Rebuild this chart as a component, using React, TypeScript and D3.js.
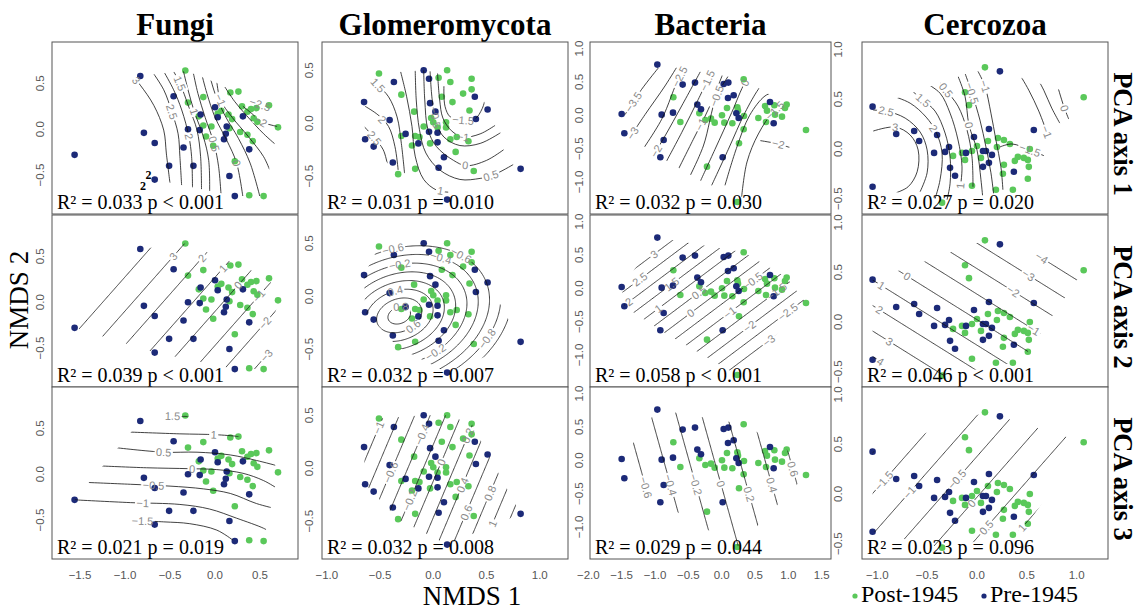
import React from "react";
import * as d3 from "d3";

type Pt = [number, number];
type Lbl = [number, number, number];
type Line = { level: number; pts: Pt[] };

const W = 1143;
const H = 610;

// ---------------- text / categories ----------------
const taxa = ["Fungi", "Glomeromycota", "Bacteria", "Cercozoa"];
const pcaAxes = ["PCA axis 1", "PCA axis 2", "PCA axis 3"];
const groups = ["Post-1945", "Pre-1945"];
const groupColors = ["#5ac85a", "#1c2a78"];

const rSquared = [
  ["0.033", "0.039", "0.021"],
  ["0.031", "0.032", "0.032"],
  ["0.032", "0.058", "0.029"],
  ["0.027", "0.046", "0.023"],
];
const pValues = [
  ["< 0.001", "< 0.001", "= 0.019"],
  ["= 0.010", "= 0.007", "= 0.008"],
  ["= 0.030", "< 0.001", "= 0.044"],
  ["= 0.020", "< 0.001", "= 0.096"],
];

const xTicks = [
  [-1.5, -1, -0.5, 0, 0.5],
  [-1, -0.5, 0, 0.5, 1],
  [-2, -1.5, -1, -0.5, 0, 0.5, 1, 1.5],
  [-1, -0.5, 0, 0.5, 1],
];
const yTicks = [
  [-0.5, 0, 0.5],
  [-0.5, 0, 0.5],
  [-1, -0.5, 0, 0.5, 1],
  [-0.5, 0, 0.5, 1],
];

// stray black "2" marks printed in the Fungi / PCA axis 1 panel (data coords)
const fungiPca1Stray: Pt[] = [[-0.74, -0.5], [-0.8, -0.62]];

// ---------------- NMDS points ----------------
const fungiPost: Pt[] = [
  [-0.33, 0.64], [-0.30, 0.29], [-0.13, 0.35], [-0.18, 0.14], [-0.13, 0.04], [-0.10, -0.08],
  [-0.04, 0.03], [-0.02, -0.18], [0.07, 0.20], [0.03, 0.17], [0.15, 0.16], [0.17, 0.40],
  [0.26, 0.41], [0.19, 0.11], [0.16, 0.01], [0.30, 0.25], [0.28, -0.03], [0.36, 0.19],
  [0.40, 0.22], [0.46, 0.23], [0.43, 0.12], [0.47, 0.08], [0.60, 0.26], [0.70, 0.02],
  [0.36, -0.06], [0.42, -0.13], [0.22, -0.35], [0.38, -0.72], [0.54, -0.73],
];
const fungiPre: Pt[] = [
  [-1.56, -0.28], [-0.83, 0.58], [-0.46, 0.36], [-0.79, -0.04], [-0.67, -0.15], [-0.67, -0.55],
  [-0.51, -0.40], [-0.35, -0.20], [-0.30, 0.00], [-0.24, -0.40], [-0.17, -0.01], [-0.16, 0.16],
  [0.00, 0.24], [0.03, 0.13], [0.13, 0.03], [0.12, -0.05], [0.10, -0.11], [0.16, -0.51],
  [0.22, -0.73], [0.31, 0.14], [0.38, -0.22],
];
const glomPost: Pt[] = [
  [-0.51, 0.47], [-0.30, 0.27], [-0.18, 0.11], [0.05, 0.43], [0.13, 0.50], [0.16, 0.39],
  [0.08, 0.25], [0.18, 0.20], [0.28, 0.28], [0.36, 0.42], [0.36, 0.32], [0.34, 0.12],
  [-0.02, 0.05], [0.00, 0.01], [0.12, 0.01], [0.12, -0.04], [0.04, -0.04], [-0.09, -0.03],
  [-0.30, -0.12], [-0.17, -0.12], [-0.13, -0.13], [-0.20, -0.21], [-0.03, -0.19], [0.16, -0.15],
  [0.22, -0.13], [0.33, -0.17], [0.21, -0.27], [-0.17, -0.43], [-0.33, -0.48], [0.38, -0.45],
];
const glomPre: Pt[] = [
  [-0.09, 0.50], [-0.04, 0.42], [-0.37, 0.39], [-0.65, 0.20], [-0.03, 0.19], [0.02, 0.11],
  [-0.41, 0.03], [-0.64, -0.15], [-0.56, -0.22], [-0.26, -0.10], [-0.14, -0.19], [-0.04, -0.08],
  [0.04, -0.09], [0.04, -0.18], [0.10, -0.32], [-0.38, -0.37], [0.05, -0.42], [0.13, -0.72],
  [0.39, 0.25], [0.51, 0.13], [0.40, 0.04], [0.82, -0.43],
];
const bactPost: Pt[] = [
  [-0.725, 0.27], [-0.62, -0.10], [-0.335, 0.03], [-0.245, -0.07], [-0.16, -0.05], [-0.105, -0.11],
  [0.005, 0.00], [0.04, -0.11], [0.08, 0.11], [0.16, -0.12], [0.235, 0.12], [0.245, 0.07],
  [0.33, 0.54], [0.335, -0.01], [0.33, -0.21], [0.26, -0.42], [0.55, -0.04], [0.65, 0.14],
  [0.68, 0.07], [0.665, -0.10], [0.79, 0.15], [0.80, 0.01], [0.905, -0.02], [0.95, 0.11],
  [0.975, 0.16], [1.265, -0.22], [-0.22, -0.77], [0.235, -1.30],
];
const bactPre: Pt[] = [
  [-0.965, 0.76], [-1.50, 0.02], [-1.46, -0.27], [-0.90, 0.01], [-0.87, -0.37], [-0.92, -0.63],
  [-0.73, 0.04], [-0.585, 0.46], [-0.40, 0.49], [-0.365, 0.16], [-0.31, 0.09], [0.03, 0.47],
  [0.10, 0.49], [0.095, 0.26], [0.18, 0.30], [0.22, 0.03], [0.255, -0.04], [0.015, -0.63],
  [0.725, 0.20], [0.78, -0.12],
];
const cercPost: Pt[] = [
  [0.08, 0.82], [-0.12, 0.57], [-0.08, 0.44], [1.07, 0.52], [-0.24, -0.07], [-0.15, -0.04],
  [-0.12, -0.11], [-0.05, -0.02], [0.00, 0.03], [0.04, -0.09], [0.11, 0.08], [0.21, 0.11],
  [0.20, 0.02], [0.27, 0.09], [0.33, 0.05], [0.53, 0.00], [0.27, -0.16], [0.26, -0.25],
  [0.38, -0.12], [0.41, -0.08], [0.47, -0.09], [0.51, -0.11], [0.52, -0.18], [0.51, -0.30],
  [0.36, -0.41], [0.19, -0.41], [-0.05, -0.37], [-0.35, -0.54],
];
const cercPre: Pt[] = [
  [-1.047, 0.425], [-1.047, -0.38], [-0.81, 0.15], [-0.63, 0.18], [-0.58, 0.08], [-0.40, 0.14],
  [-0.43, -0.04], [-0.32, -0.03], [-0.28, 0.02], [-0.27, -0.19], [-0.22, -0.27], [-0.11, -0.04],
  [-0.03, 0.12], [0.06, -0.02], [0.09, -0.02], [0.12, 0.20], [0.15, -0.06], [0.12, -0.14],
  [0.06, -0.18], [0.23, 0.78], [0.57, 0.19], [0.37, -0.23],
];

// ---------------- fitted surfaces (contours) ----------------
// Fungi, PCA axis 1
const fungiPca1Lines: Line[] = [
  { level: 3.5, pts: [[-1.59, -0.24], [-1.52, -0.33]] },
  { level: 3, pts: [[-0.94, 0.61], [-0.83, 0.48], [-0.68, 0.26], [-0.57, -0.01], [-0.54, -0.27], [-0.50, -0.59]] },
  { level: 2.5, pts: [[-0.70, 0.63], [-0.57, 0.43], [-0.48, 0.19], [-0.41, -0.05], [-0.39, -0.30], [-0.37, -0.63]] },
  { level: 2, pts: [[-0.57, 0.63], [-0.46, 0.43], [-0.37, 0.21], [-0.29, -0.08], [-0.26, -0.30], [-0.25, -0.65]] },
  { level: 1.5, pts: [[-0.46, 0.63], [-0.39, 0.50], [-0.29, 0.24], [-0.20, -0.01], [-0.16, -0.30], [-0.15, -0.68]] },
  { level: 1, pts: [[-0.35, 0.63], [-0.30, 0.43], [-0.23, 0.19], [-0.13, -0.08], [-0.07, -0.34], [-0.06, -0.72]] },
  { level: 0.5, pts: [[-0.24, 0.61], [-0.19, 0.39], [-0.11, 0.13], [-0.01, -0.16], [0.04, -0.41], [0.07, -0.76]] },
  { level: 0, pts: [[-0.15, 0.61], [-0.09, 0.39], [0.0, 0.13], [0.13, -0.12], [0.24, -0.37], [0.31, -0.74]] },
  { level: -0.5, pts: [[-0.06, 0.59], [0.0, 0.39], [0.11, 0.15], [0.26, -0.10], [0.39, -0.37], [0.50, -0.74]] },
  { level: -1, pts: [[0.02, 0.52], [0.06, 0.32], [0.19, 0.13], [0.37, -0.08], [0.54, -0.30], [0.61, -0.45]] },
  { level: -1.5, pts: [[0.11, 0.46], [0.22, 0.30], [0.35, 0.15], [0.54, -0.05], [0.70, -0.19]] },
  { level: -2, pts: [[0.31, 0.25], [0.41, 0.17], [0.52, 0.08], [0.69, 0.03]] },
  { level: -2.5, pts: [[0.39, 0.33], [0.50, 0.27], [0.63, 0.25]] },
];
const fungiPca1Labels: Lbl[] = [
  [3, -0.88, 0.53], [2.5, -0.48, 0.19], [2, -0.29, -0.08], [1.5, -0.39, 0.5], [1, -0.23, 0.19],
  [0.5, -0.01, -0.16], [0, 0.24, -0.37], [-1, 0.06, 0.32], [-2, 0.5, 0.08], [-2.5, 0.5, 0.27],
];
// Fungi, PCA axis 2 (plane)
const fungiPca2Plane = [0.27, -2.99, 2.69];
const fungiPca2Levels = [-4, -3, -2, -1, 0, 1, 2, 3, 4];
const fungiPca2Labels: Lbl[] = [
  [3, -0.5, 0.53], [2, -0.17, 0.5], [1, 0.085, 0.37], [0, 0.26, 0.19], [-1, 0.52, 0.04], [-2, 0.56, -0.23], [-3, 0.54, -0.52],
];
// Fungi, PCA axis 3
const fungiPca3Lines: Line[] = [
  { level: 1.5, pts: [[-0.61, 0.64], [-0.28, 0.63]] },
  { level: 1, pts: [[-0.96, 0.46], [-0.39, 0.44], [0.02, 0.43], [0.41, 0.40]] },
  { level: 0.5, pts: [[-1.11, 0.29], [-0.57, 0.24], [-0.20, 0.24], [0.17, 0.21], [0.46, 0.15], [0.70, 0.09]] },
  { level: 0, pts: [[-1.27, 0.09], [-0.76, 0.07], [-0.28, 0.06], [0.02, 0.05], [0.31, 0.01], [0.54, -0.07], [0.70, -0.16]] },
  { level: -0.5, pts: [[-1.42, -0.09], [-0.94, -0.11], [-0.50, -0.13], [-0.13, -0.16], [0.17, -0.21], [0.46, -0.32], [0.69, -0.38]] },
  { level: -1, pts: [[-1.56, -0.28], [-0.94, -0.31], [-0.39, -0.33], [-0.06, -0.38], [0.24, -0.48], [0.54, -0.59], [0.61, -0.63]] },
  { level: -1.5, pts: [[-1.04, -0.50], [-0.57, -0.52], [-0.28, -0.54], [0.02, -0.61], [0.20, -0.72]] },
];
const fungiPca3Labels: Lbl[] = [
  [1.5, -0.46, 0.64], [1, -0.01, 0.43], [0.5, -0.57, 0.24], [0, -0.26, 0.07], [-0.5, -0.67, -0.12], [-1, -0.78, -0.32], [-1.5, -0.8, -0.51],
];
// Glomeromycota, PCA axis 1
const glomPca1Lines: Line[] = [
  { level: 2.5, pts: [[-0.66, -0.02], [-0.56, -0.13], [-0.47, -0.25], [-0.43, -0.39]] },
  { level: 2, pts: [[-0.64, 0.16], [-0.52, 0.08], [-0.42, -0.03], [-0.36, -0.22], [-0.33, -0.44]] },
  { level: 1.5, pts: [[-0.61, 0.46], [-0.52, 0.36], [-0.42, 0.25], [-0.34, 0.06], [-0.30, -0.19], [-0.27, -0.47]] },
  { level: 1, pts: [[-0.31, 0.50], [-0.25, 0.25], [-0.20, -0.03], [-0.17, -0.31], [-0.09, -0.53], [0.03, -0.63], [0.14, -0.65]] },
  { level: 0.5, pts: [[-0.17, 0.52], [-0.16, 0.22], [-0.13, -0.06], [-0.07, -0.28], [0.06, -0.44], [0.25, -0.53], [0.44, -0.52], [0.56, -0.49], [0.75, -0.39]] },
  { level: 0, pts: [[-0.09, 0.50], [-0.08, 0.22], [-0.05, -0.06], [0.03, -0.22], [0.19, -0.35], [0.31, -0.40], [0.50, -0.35], [0.66, -0.25]] },
  { level: -0.5, pts: [[-0.03, 0.49], [-0.01, 0.22], [0.03, 0.0], [0.10, -0.13], [0.25, -0.21], [0.44, -0.19], [0.63, -0.09]] },
  { level: -1, pts: [[0.04, 0.47], [0.06, 0.22], [0.09, 0.05], [0.17, -0.07], [0.28, -0.13], [0.44, -0.10], [0.58, -0.02]] },
  { level: -1.5, pts: [[0.10, 0.35], [0.11, 0.16], [0.16, 0.06], [0.28, 0.03], [0.39, 0.04], [0.46, 0.14], [0.49, 0.24]] },
];
const glomPca1Labels: Lbl[] = [
  [2.5, -0.56, -0.14], [2, -0.47, 0.05], [1.5, -0.53, 0.35], [1, 0.07, -0.64], [0.5, 0.54, -0.49],
  [0, 0.29, -0.41], [-0.5, 0.02, 0.06], [-1, 0.26, -0.16], [-1.5, 0.28, 0.04],
];
// Glomeromycota, PCA axis 2 (elliptical peak)
const glomPca2Center: Pt = [-0.32, -0.18];
const glomPca2Peak = 1.0;
const glomPca2Slope = 2.5;
const glomPca2Shape = [0.6, 1.0, -0.175];
const glomPca2Levels = [-1, -0.8, -0.6, -0.4, -0.2, 0, 0.2, 0.4, 0.6, 0.8];
const glomPca2Labels: Lbl[] = [
  [-0.6, -0.38, 0.48], [-0.2, -0.31, 0.28], [0.4, -0.36, 0.05], [0.8, -0.3, -0.14], [-0.6, 0.27, 0.41],
  [-0.4, 0.06, 0.31], [0.6, -0.11, -0.38], [-0.2, 0.0, -0.49], [-0.8, 0.53, -0.42],
];
// Glomeromycota, PCA axis 3 (plane)
const glomPca3Plane = [-0.07, 1.38, -0.58];
const glomPca3Levels = [-1.2, -1, -0.8, -0.6, -0.4, -0.2, 0, 0.2, 0.4, 0.6, 0.8, 1, 1.2];
const glomPca3Labels: Lbl[] = [
  [-1, -0.52, 0.39], [-0.6, -0.43, -0.03], [-0.4, -0.08, 0.31], [-0.2, -0.28, -0.28], [0, 0.1, 0.05],
  [0.2, 0.38, 0.28], [0.4, 0.28, -0.16], [0.6, 0.33, -0.42], [0.8, 0.55, -0.24], [1, 0.55, -0.52],
];
// Bacteria, PCA axis 1
const bactPca1Lines: Line[] = [
  { level: -3.5, pts: [[-1.45, 0.01], [-1.2, 0.39], [-0.95, 0.71]] },
  { level: -3, pts: [[-1.43, -0.41], [-1.15, 0.01], [-0.85, 0.44], [-0.65, 0.76]] },
  { level: -2.5, pts: [[-1.23, -0.58], [-0.9, -0.06], [-0.63, 0.58], [-0.5, 0.74]] },
  { level: -2, pts: [[-1.03, -0.61], [-0.85, -0.31], [-0.6, 0.14], [-0.3, 0.69]] },
  { level: -1.5, pts: [[-0.85, -0.73], [-0.6, -0.26], [-0.35, 0.24], [-0.15, 0.66]] },
  { level: -1, pts: [[-0.675, -0.86], [-0.425, -0.36], [-0.2, 0.09], [0.025, 0.64]] },
  { level: -0.5, pts: [[-0.5, -0.96], [-0.275, -0.46], [-0.075, 0.29], [0.15, 0.66]] },
  { level: 0, pts: [[-0.325, -1.0], [-0.1, -0.51], [0.15, 0.04], [0.35, 0.49], [0.45, 0.61]] },
  { level: -0.5, pts: [[-0.15, -1.05], [0.1, -0.51], [0.35, 0.04], [0.55, 0.39], [0.65, 0.51]] },
  { level: -1, pts: [[0.05, -1.05], [0.22, -0.5], [0.42, 0.0], [0.65, 0.29], [0.82, 0.36]] },
  { level: -1.5, pts: [[0.3, -1.22], [0.38, -0.7], [0.55, -0.28], [0.78, 0.06], [0.98, 0.2], [1.2, 0.0]] },
  { level: -2, pts: [[0.58, -0.38], [0.85, -0.43], [1.1, -0.51]] },
];
const bactPca1Labels: Lbl[] = [
  [-3.5, -1.33, 0.19], [-3, -1.33, -0.27], [-2.5, -0.63, 0.58], [-2, -1.0, -0.51], [-1.5, -0.225, 0.51],
  [-1, -0.425, -0.06], [-0.5, -0.075, 0.29], [0, 0.35, 0.49], [-1.5, 0.775, 0.09], [-2, 0.85, -0.43],
];
// Bacteria, PCA axis 2 (plane)
const bactPca2Plane = [0.05, -1.74, 2.32];
const bactPca2Levels = [-3.5, -3, -2.5, -2, -1.5, -1, -0.5, 0, 0.5, 1, 1.5, 2, 2.5, 3, 3.5];
const bactPca2Labels: Lbl[] = [
  [3, -1.04, 0.54], [2.5, -1.2, 0.11], [2, -1.39, -0.21], [1.5, -0.74, 0.06], [1, -0.93, -0.33],
  [0.5, -0.35, -0.06], [0, -0.46, -0.38], [-0.5, 0.45, 0.14], [-1, 0.125, -0.36], [-1.5, 0.8, -0.01],
  [-2, 0.425, -0.58], [-2.5, 1.0, -0.38], [-3, 0.7, -0.78],
];
// Bacteria, PCA axis 3 (plane)
const bactPca3Plane = [0.058, 0.526, 0.147];
const bactPca3Levels = [-0.8, -0.6, -0.4, -0.2, 0, 0.2, 0.4, 0.6, 0.8];
const bactPca3Labels: Lbl[] = [
  [-0.6, -1.125, -0.41], [-0.4, -0.75, -0.36], [-0.2, -0.375, -0.36], [0, -0.01, -0.36],
  [0.2, 0.415, -0.51], [0.4, 0.79, -0.36], [0.6, 1.09, -0.13],
];
// Cercozoa, PCA axis 1
const cercPca1Lines: Line[] = [
  { level: 3, pts: [[-1.04, 0.18], [-0.82, 0.22], [-0.67, 0.14], [-0.59, -0.01], [-0.60, -0.23], [-0.69, -0.38], [-0.81, -0.44]] },
  { level: 2.5, pts: [[-1.04, 0.39], [-0.91, 0.38], [-0.72, 0.31], [-0.57, 0.17], [-0.50, -0.01], [-0.50, -0.24], [-0.57, -0.43]] },
  { level: 2, pts: [[-0.87, 0.54], [-0.67, 0.46], [-0.51, 0.32], [-0.41, 0.17], [-0.35, -0.04], [-0.37, -0.31], [-0.42, -0.50]] },
  { level: 1.5, pts: [[-0.66, 0.59], [-0.54, 0.49], [-0.42, 0.38], [-0.32, 0.16], [-0.27, -0.08], [-0.27, -0.35], [-0.30, -0.51]] },
  { level: 1, pts: [[-0.51, 0.66], [-0.37, 0.56], [-0.27, 0.36], [-0.19, 0.09], [-0.15, -0.18], [-0.17, -0.41]] },
  { level: 0.5, pts: [[-0.40, 0.71], [-0.31, 0.59], [-0.19, 0.43], [-0.10, 0.19], [-0.05, -0.08], [-0.04, -0.38]] },
  { level: 0, pts: [[-0.19, 0.73], [-0.12, 0.53], [-0.08, 0.24], [0.0, -0.01], [0.04, -0.31], [0.06, -0.51]] },
  { level: -0.5, pts: [[-0.12, 0.76], [-0.05, 0.56], [0.03, 0.29], [0.09, 0.02], [0.14, -0.24], [0.17, -0.48]] },
  { level: -1, pts: [[0.01, 0.78], [0.08, 0.63], [0.14, 0.36], [0.19, 0.09], [0.24, -0.18], [0.26, -0.41]] },
  { level: -1.5, pts: [[0.23, 0.02], [0.35, 0.05], [0.53, -0.01], [0.70, -0.08]] },
  { level: -1, pts: [[0.41, 0.78], [0.52, 0.59], [0.62, 0.38], [0.70, 0.17]] },
  { level: -0.5, pts: [[0.58, 0.76], [0.67, 0.59], [0.75, 0.41], [0.83, 0.26]] },
  { level: 0, pts: [[0.80, 0.66], [0.87, 0.43], [0.92, 0.30]] },
];
const cercPca1Labels: Lbl[] = [
  [3, -0.82, 0.22], [2.5, -0.91, 0.38], [2, -0.42, 0.21], [1.5, -0.54, 0.48], [1, -0.17, -0.38],
  [0.5, -0.32, 0.58], [0, -0.08, 0.24], [-0.5, -0.05, 0.56], [-1, 0.08, 0.63], [-1.5, 0.53, -0.01],
  [-1, 0.72, 0.16], [0, 0.87, 0.41],
];
// Cercozoa, PCA axis 2 (plane)
const cercPca2Plane = [0.09, -2.44, -3.9];
const cercPca2Levels = [-5, -4, -3, -2, -1, 0, 1, 2, 3, 4, 5];
const cercPca2Labels: Lbl[] = [
  [0, -0.7, 0.46], [1, -0.95, 0.37], [2, -0.98, 0.12], [3, -0.87, -0.18], [4, -0.84, -0.45],
  [-1, 0.57, -0.08], [-2, 0.35, 0.29], [-3, 0.5, 0.44], [-4, 0.63, 0.61],
];
// Cercozoa, PCA axis 3 (plane)
const cercPca3Plane = [-0.04, 1.39, -1.22];
const cercPca3Levels = [-2, -1.5, -1, -0.5, 0, 0.5, 1, 1.5];
const cercPca3Labels: Lbl[] = [
  [-1.5, -0.94, 0.13], [-1, -0.69, 0.03], [-0.5, -0.2, 0.15], [0, -0.05, -0.1], [0.5, 0.1, -0.34], [1, 0.45, -0.34],
];

// ---------------- layout ----------------
const colLeft = [52, 322, 590, 862];
const colRight = [298, 568, 831, 1108];
const rowTop = [42, 215, 387];
const rowHeight = 172;
const xDomains: Pt[] = [[-1.811, 0.922], [-1.045, 1.265], [-1.975, 1.64], [-1.153, 1.314]];
const yDomains: Pt[] = [[-0.925, 0.951], [-0.856, 0.767], [-1.48, 1.099], [-0.654, 1.075]];
const yLabelGap = [8, 9, 7, 20];

const SERIF = "'Liberation Serif', 'Times New Roman', Times, serif";
const SANS = "'Liberation Sans', Arial, Helvetica, sans-serif";

type Spec =
  | { kind: "lines"; lines: Line[]; labels: Lbl[] }
  | { kind: "plane"; coef: number[]; levels: number[]; labels: Lbl[] }
  | { kind: "cone"; center: Pt; peak: number; slope: number; shape: number[]; levels: number[]; labels: Lbl[] };

const postSets = [fungiPost, glomPost, bactPost, cercPost];
const preSets = [fungiPre, glomPre, bactPre, cercPre];

const specs: Spec[][] = [
  [
    { kind: "lines", lines: fungiPca1Lines, labels: fungiPca1Labels },
    { kind: "plane", coef: fungiPca2Plane, levels: fungiPca2Levels, labels: fungiPca2Labels },
    { kind: "lines", lines: fungiPca3Lines, labels: fungiPca3Labels },
  ],
  [
    { kind: "lines", lines: glomPca1Lines, labels: glomPca1Labels },
    { kind: "cone", center: glomPca2Center, peak: glomPca2Peak, slope: glomPca2Slope, shape: glomPca2Shape, levels: glomPca2Levels, labels: glomPca2Labels },
    { kind: "plane", coef: glomPca3Plane, levels: glomPca3Levels, labels: glomPca3Labels },
  ],
  [
    { kind: "lines", lines: bactPca1Lines, labels: bactPca1Labels },
    { kind: "plane", coef: bactPca2Plane, levels: bactPca2Levels, labels: bactPca2Labels },
    { kind: "plane", coef: bactPca3Plane, levels: bactPca3Levels, labels: bactPca3Labels },
  ],
  [
    { kind: "lines", lines: cercPca1Lines, labels: cercPca1Labels },
    { kind: "plane", coef: cercPca2Plane, levels: cercPca2Levels, labels: cercPca2Labels },
    { kind: "plane", coef: cercPca3Plane, levels: cercPca3Levels, labels: cercPca3Labels },
  ],
];

function fieldValue(spec: Spec, x: number, y: number): number {
  if (spec.kind === "plane") return spec.coef[0] + spec.coef[1] * x + spec.coef[2] * y;
  if (spec.kind === "cone") {
    const dx = x - spec.center[0];
    const dy = y - spec.center[1];
    const [a, b, c] = spec.shape;
    const q = a * dx * dx + b * dy * dy + 2 * c * dx * dy;
    return spec.peak - spec.slope * Math.sqrt(Math.max(q, 0));
  }
  return 0;
}

const fmtTick = d3.format(".1f");
function fmtLevel(v: number): string {
  const s = String(Math.round(v * 100) / 100);
  return s.replace("-", "\u2212");
}
function textWidth(s: string, size: number): number {
  let w = 0;
  for (const ch of s) {
    if (ch === ".") w += 0.278;
    else if (ch === "\u2212") w += 0.584;
    else w += 0.556;
  }
  return w * size;
}

type Rec = { level: number; d: string; verts: Pt[]; field: boolean };

function Panel({ col, row }: { col: number; row: number }) {
  const id = `p${col}${row}`;
  const xs = d3.scaleLinear().domain(xDomains[col]).range([colLeft[col], colRight[col]]);
  const ys = d3.scaleLinear().domain(yDomains[col]).range([rowTop[row] + rowHeight, rowTop[row]]);
  const post = postSets[col];
  const pre = preSets[col];
  const allPx: Pt[] = [...post, ...pre].map((p) => [xs(p[0]), ys(p[1])] as Pt);
  const hull = (d3.polygonHull(allPx) || []) as Pt[];
  const spec = specs[col][row];
  const recs: Rec[] = [];

  if (spec.kind === "lines") {
    const gen = d3
      .line<Pt>()
      .x((p) => xs(p[0]))
      .y((p) => ys(p[1]))
      .curve(d3.curveCatmullRom.alpha(0.5));
    for (const ln of spec.lines) {
      const v = ln.pts.map((p) => [xs(p[0]), ys(p[1])] as Pt);
      const dense: Pt[] = [];
      for (let i = 0; i < v.length - 1; i++) {
        for (let t = 0; t < 12; t++) {
          dense.push([v[i][0] + ((v[i + 1][0] - v[i][0]) * t) / 12, v[i][1] + ((v[i + 1][1] - v[i][1]) * t) / 12]);
        }
      }
      dense.push(v[v.length - 1]);
      recs.push({ level: ln.level, d: gen(ln.pts) || "", verts: dense, field: false });
    }
  } else {
    const nx = 220;
    const ny = 150;
    const [x0, x1] = xDomains[col];
    const [yb, yt] = yDomains[col];
    const vals: number[] = new Array(nx * ny);
    for (let j = 0; j < ny; j++) {
      for (let i = 0; i < nx; i++) {
        vals[j * nx + i] = fieldValue(spec, x0 + ((i + 0.5) / nx) * (x1 - x0), yt - ((j + 0.5) / ny) * (yt - yb));
      }
    }
    const cs = d3.contours().size([nx, ny]).thresholds(spec.levels)(vals);
    for (const mp of cs) {
      for (const poly of mp.coordinates) {
        for (const ring of poly) {
          const pts: Pt[] = ring.map((g) => [xs(x0 + (g[0] / nx) * (x1 - x0)), ys(yt - (g[1] / ny) * (yt - yb))] as Pt);
          if (pts.length < 2) continue;
          const d = "M" + pts.map((p) => `${p[0].toFixed(2)},${p[1].toFixed(2)}`).join("L") + "Z";
          recs.push({ level: mp.value, d, verts: pts, field: true });
        }
      }
    }
  }

  // contour labels
  const labels: { x: number; y: number; ang: number; text: string; w: number }[] = [];
  for (const [lev, lx, ly] of spec.labels) {
    const tx = xs(lx);
    const ty = ys(ly);
    let best = Infinity;
    let bx = tx;
    let by = ty;
    let ang = 0;
    for (const r of recs) {
      if (Math.abs(r.level - lev) > 1e-6) continue;
      const n = r.verts.length;
      for (let k = 0; k < n; k++) {
        const v = r.verts[k];
        if (r.field && !d3.polygonContains(hull, v)) continue;
        const dd = (v[0] - tx) ** 2 + (v[1] - ty) ** 2;
        if (dd < best) {
          best = dd;
          bx = v[0];
          by = v[1];
          const a = r.verts[Math.max(0, k - 3)];
          const b = r.verts[Math.min(n - 1, k + 3)];
          ang = (Math.atan2(b[1] - a[1], b[0] - a[0]) * 180) / Math.PI;
        }
      }
    }
    if (ang > 90) ang -= 180;
    if (ang < -90) ang += 180;
    const text = fmtLevel(lev);
    labels.push({ x: bx, y: by, ang, text, w: textWidth(text, 11) + 3 });
  }

  const top = rowTop[row];
  const bottom = top + rowHeight;
  const left = colLeft[col];
  const right = colRight[col];
  const stray = col === 0 && row === 0 ? fungiPca1Stray : [];

  return (
    <g>
      <defs>
        <clipPath id={`${id}-box`}>
          <rect x={left} y={top} width={right - left} height={rowHeight} />
        </clipPath>
        <clipPath id={`${id}-hull`}>
          <polygon points={hull.map((p) => p.join(",")).join(" ")} />
        </clipPath>
        <mask id={`${id}-mask`} maskUnits="userSpaceOnUse" x={0} y={0} width={W} height={H}>
          <rect x={0} y={0} width={W} height={H} fill="white" />
          {labels.map((l, i) => (
            <rect
              key={i}
              x={-l.w / 2}
              y={-5.5}
              width={l.w}
              height={11}
              fill="black"
              transform={`translate(${l.x},${l.y}) rotate(${l.ang})`}
            />
          ))}
        </mask>
      </defs>
      <rect x={left} y={top} width={right - left} height={rowHeight} fill="white" stroke="#555" strokeWidth={1} />
      <g clipPath={`url(#${id}-box)`}>
        {post.map((p, i) => (
          <circle key={`g${i}`} cx={xs(p[0])} cy={ys(p[1])} r={3.3} fill={groupColors[0]} />
        ))}
        {pre.map((p, i) => (
          <circle key={`b${i}`} cx={xs(p[0])} cy={ys(p[1])} r={3.3} fill={groupColors[1]} />
        ))}
        <g clipPath={`url(#${id}-hull)`}>
          <g mask={`url(#${id}-mask)`}>
            {recs.map((r, i) => (
              <path key={i} d={r.d} fill="none" stroke="#111" strokeWidth={0.8} />
            ))}
          </g>
        </g>
        {labels.map((l, i) => (
          <text
            key={i}
            transform={`translate(${l.x},${l.y}) rotate(${l.ang})`}
            textAnchor="middle"
            dy="0.36em"
            fontFamily={SANS}
            fontSize={11}
            fill="#8a8a8a"
          >
            {l.text}
          </text>
        ))}
        {stray.map((p, i) => (
          <text key={`s${i}`} x={xs(p[0])} y={ys(p[1])} textAnchor="middle" dy="0.35em" fontFamily={SERIF} fontWeight="bold" fontSize={12} fill="#000">
            2
          </text>
        ))}
      </g>
      <text x={left + 5} y={bottom - 5} fontFamily={SERIF} fontSize={20} fill="#000">
        {`R\u00b2 = ${rSquared[col][row]} p ${pValues[col][row]}`}
      </text>
      {yTicks[col].map((t, i) => (
        <text
          key={`yt${i}`}
          transform={`translate(${left - yLabelGap[col]},${ys(t)}) rotate(-90)`}
          textAnchor="middle"
          fontFamily={SANS}
          fontSize={11.5}
          fill="#555"
        >
          {fmtTick(t)}
        </text>
      ))}
      {row === 2 &&
        xTicks[col].map((t, i) => (
          <text key={`xt${i}`} x={xs(t)} y={bottom + 20} textAnchor="middle" fontFamily={SANS} fontSize={11.5} fill="#555">
            {fmtTick(t)}
          </text>
        ))}
    </g>
  );
}

export default function App() {
  const rowsIdx = [0, 1, 2];
  const colsIdx = [0, 1, 2, 3];
  return (
    <svg width={W} height={H} viewBox={`0 0 ${W} ${H}`} style={{ position: "absolute", left: 0, top: 0, background: "#fff" }}>
      <rect x={0} y={0} width={W} height={H} fill="#fff" />
      {colsIdx.map((c) => (
        <text
          key={`t${c}`}
          x={(colLeft[c] + colRight[c]) / 2}
          y={35}
          textAnchor="middle"
          fontFamily={SERIF}
          fontWeight="bold"
          fontSize={31}
          fill="#000"
        >
          {taxa[c]}
        </text>
      ))}
      {colsIdx.map((c) => rowsIdx.map((r) => <Panel key={`${c}-${r}`} col={c} row={r} />))}
      {rowsIdx.map((r) => (
        <text
          key={`r${r}`}
          transform={`translate(1114,${rowTop[r] + rowHeight / 2 + 6}) rotate(90)`}
          textAnchor="middle"
          fontFamily={SERIF}
          fontWeight="bold"
          fontSize={26.5}
          fill="#000"
        >
          {pcaAxes[r]}
        </text>
      ))}
      <text transform="translate(28,300) rotate(-90)" textAnchor="middle" fontFamily={SERIF} fontSize={27} fill="#000">
        NMDS 2
      </text>
      <text x={472} y={605} textAnchor="middle" fontFamily={SERIF} fontSize={27} fill="#000">
        NMDS 1
      </text>
      <circle cx={855} cy={596} r={2.6} fill={groupColors[0]} />
      <text x={861} y={602} fontFamily={SERIF} fontSize={24} fill="#000">
        {groups[0]}
      </text>
      <circle cx={984} cy={596} r={2.6} fill={groupColors[1]} />
      <text x={990} y={602} fontFamily={SERIF} fontSize={24} fill="#000">
        {groups[1]}
      </text>
    </svg>
  );
}
